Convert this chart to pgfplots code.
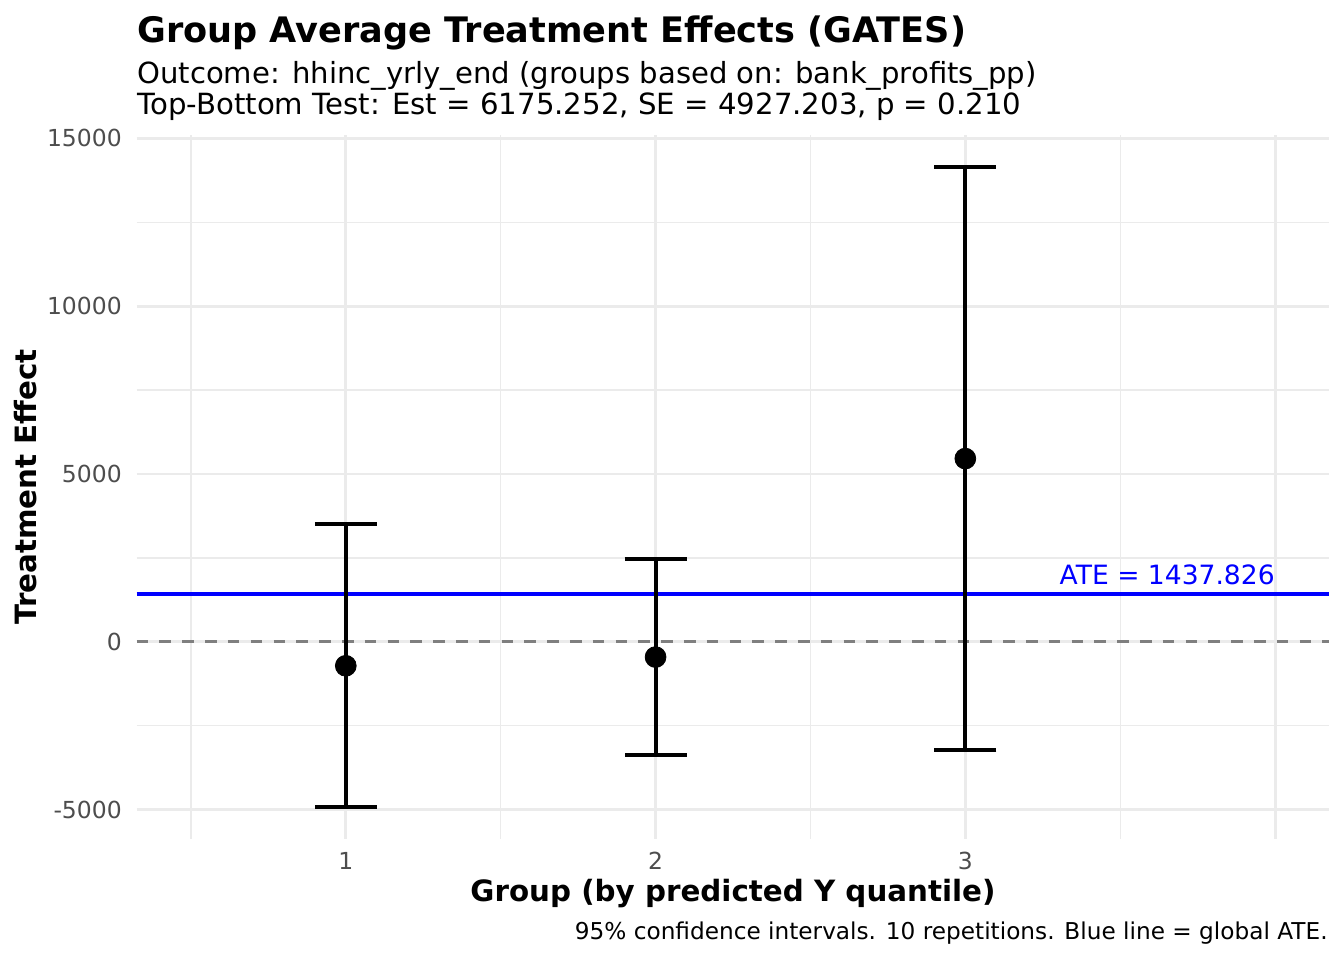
\documentclass[border=0pt]{standalone}
\usepackage{fontspec}
\setmainfont{DejaVu Sans}
\usepackage{pgfplots}
\pgfplotsset{compat=1.18}
\usepackage{pgfplotstable}
\definecolor{grid92}{HTML}{EBEBEB}
\definecolor{grey30}{HTML}{4D4D4D}
\definecolor{grey50}{HTML}{7F7F7F}

% group estimates with 95% CI bounds
\pgfplotstableread{
grp est lo hi
1 -715 -4918 3497
2 -455 -3378 2475
3 5460 -3222 14141
}\gates

\begin{document}
\begin{tikzpicture}
\path[use as bounding box] (0,0) rectangle (672pt,480pt);
\begin{axis}[
  at={(68.35pt,60.75pt)}, anchor=south west,
  scale only axis, width=596.3pt, height=351.75pt,
  xmin=0.325, xmax=4.175, ymin=-5862, ymax=15103,
  scaled y ticks=false,
  xtick={1,2,3,4}, xticklabels={1,2,3,{}},
  minor xtick={0.5,1.5,2.5,3.5},
  ytick={-5000,0,5000,10000,15000},
  yticklabels={-5000,0,5000,10000,15000},
  minor ytick={-2500,2500,7500,12500},
  grid=both,
  major grid style={grid92, line width=1.42pt},
  minor grid style={grid92, line width=0.71pt},
  axis line style={draw=none},
  major tick length=0pt, minor tick length=0pt,
  tick style={draw=none},
  ticklabel style={font=\fontsize{11.73}{14}\selectfont, text=grey30, inner sep=0pt},
  xticklabel style={anchor=base, yshift=-15.25pt},
  yticklabel style={anchor=east, xshift=-7.3pt},
]
\addplot[grey50, line width=1.4pt, dash pattern=on 5.8pt off 5.6pt] coordinates {(0.325,0) (4.175,0)};
\addplot[blue, line width=2pt] coordinates {(0.325,1437.826) (4.175,1437.826)};
\addplot[black, only marks, mark=*, mark size=5.2pt, mark options={draw=none, fill=black},
  error bars/.cd, y dir=both, y explicit,
  error bar style={line width=2pt, black},
  error mark options={rotate=90, mark size=15.5pt, line width=2pt, black}]
  table[x=grp, y=est, y error plus expr=\thisrow{hi}-\thisrow{est},
        y error minus expr=\thisrow{est}-\thisrow{lo}] {\gates};
\node[anchor=base east, inner sep=0pt, text=blue, font=\fontsize{13.28}{16}\selectfont]
  at (axis cs:4,1437.826) [yshift=4.5pt] {ATE = 1437.826};
\end{axis}
\node[anchor=base west, inner sep=0pt, font=\bfseries\fontsize{17.55}{20}\selectfont]
  at (68.5pt,458.5pt) {Group Average Treatment Effects (GATES)};
\node[anchor=base west, inner sep=0pt, font=\fontsize{14.55}{17}\selectfont]
  at (68.5pt,438pt) {Outcome: hhinc\_yrly\_end (groups based on: bank\_profits\_pp)};
\node[anchor=base west, inner sep=0pt, font=\fontsize{14.6}{17}\selectfont]
  at (68.5pt,422.5pt) {Top-Bottom Test: Est = 6175.252, SE = 4927.203, p = 0.210};
\node[anchor=base, inner sep=0pt, font=\bfseries\fontsize{14.67}{17}\selectfont]
  at (366.5pt,29.15pt) {Group (by predicted Y quantile)};
\node[anchor=base east, inner sep=0pt, font=\fontsize{11.6}{14}\selectfont]
  at (664pt,10.5pt) {95\% confidence intervals. 10 repetitions. Blue line = global ATE.};
\node[anchor=base, rotate=90, inner sep=0pt, font=\bfseries\fontsize{14.67}{17}\selectfont]
  at (18.25pt,236.6pt) {Treatment Effect};
\end{tikzpicture}
\end{document}
